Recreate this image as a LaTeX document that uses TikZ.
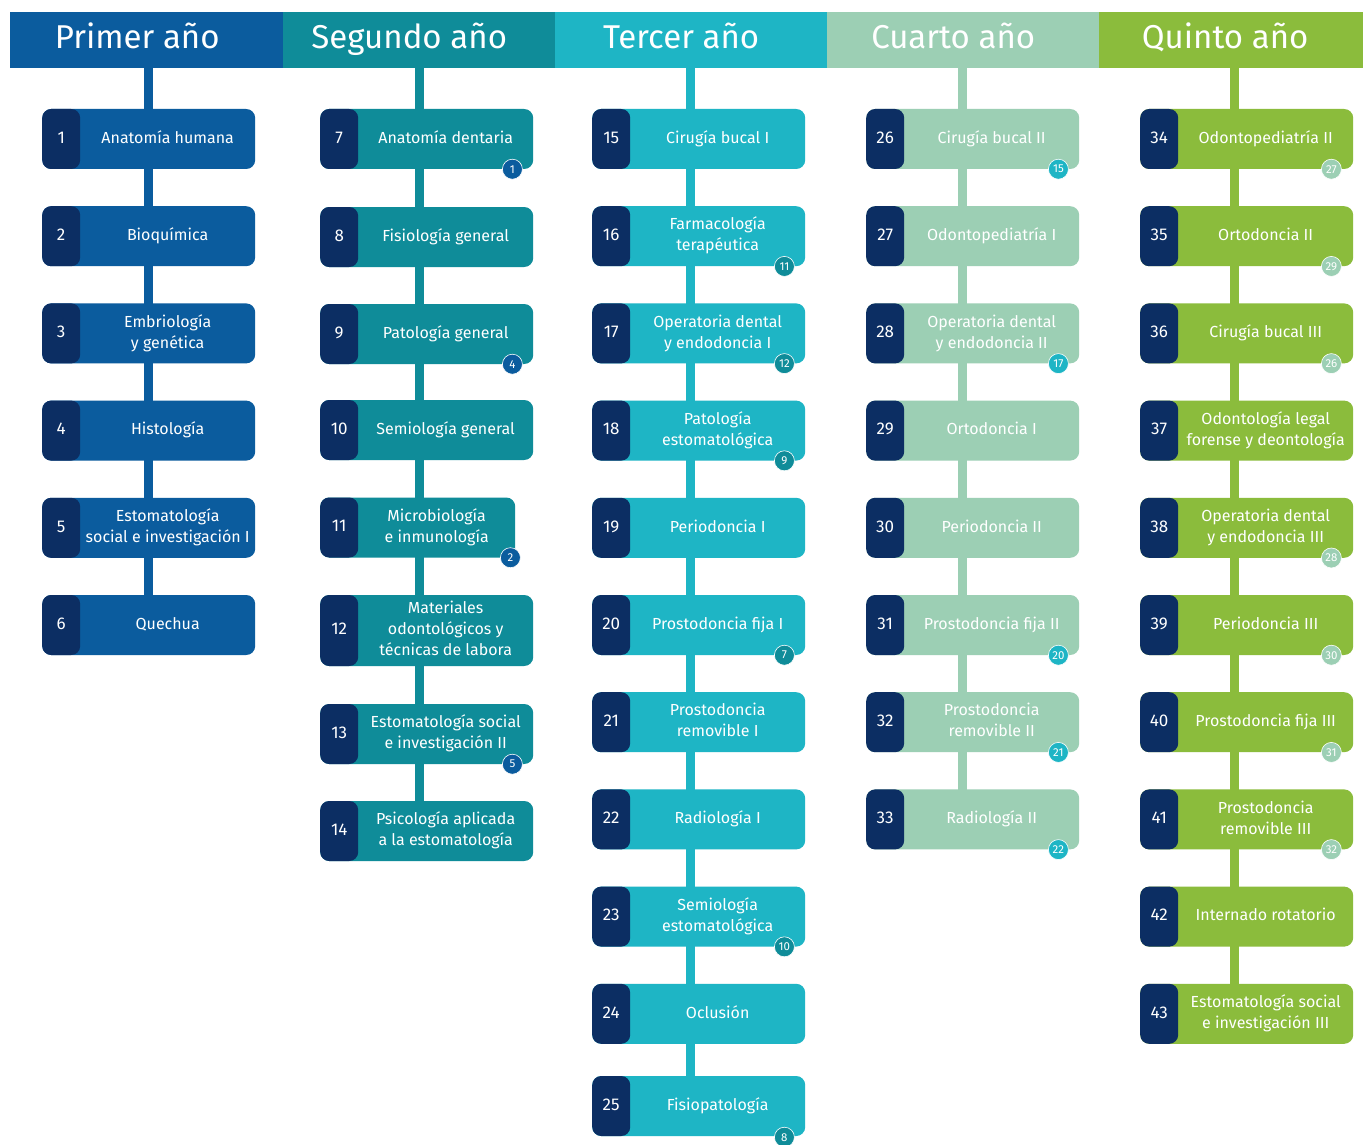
\documentclass[tikz,border=0pt]{standalone}
\usepackage{fontspec}
\setmainfont{Fira Sans}
\usetikzlibrary{calc}
\definecolor{cA}{HTML}{0B5C9E}
\definecolor{cB}{HTML}{0F8C99}
\definecolor{cC}{HTML}{1EB5C5}
\definecolor{cD}{HTML}{9CCFB4}
\definecolor{cE}{HTML}{8BBC3C}
\definecolor{navy}{HTML}{0C2E63}
\pgfdeclarelayer{bg}
\pgfsetlayers{bg,main}
\newcommand\bx[6]{\node[subj,#2,anchor=west] (#1) at (#3,#4) {\makebox[38pt]{\fontsize{17}{21}\selectfont #5}\makebox[175pt]{\begin{tabular}{@{}c@{}}#6\end{tabular}}};}
\begin{document}
\begin{tikzpicture}[x=1pt,y=-1pt,
  subj/.style={rectangle, rounded corners=9pt, minimum width=213pt, minimum height=60pt, inner sep=0pt,
    text=white, font=\fontsize{16}{21}\selectfont,
    path picture={\fill[navy] (path picture bounding box.north west) rectangle ([xshift=38pt]path picture bounding box.south west);}},
  hdr/.style={rectangle, inner sep=0pt, minimum height=56pt, text height=25pt, text depth=8pt, anchor=north west, text=white, font=\fontsize{33}{33}\selectfont},
  badge/.style={circle, draw=white, line width=0.6pt, inner sep=0pt, minimum size=20pt, text=white, font=\fontsize{11.5}{11.5}\selectfont},
  conn/.style={line width=9pt}]
\useasboundingbox (0,0) rectangle (1363,1145);
% headers
\node[hdr, fill=cA, minimum width=273pt] (h1) at (10,12) {\makebox[273pt]{Primer año\hspace{19pt}}};
\node[hdr, fill=cB, minimum width=272pt] (h2) at (283,12) {\makebox[272pt]{Segundo año\hspace{20pt}}};
\node[hdr, fill=cC, minimum width=272pt] (h3) at (555,12) {\makebox[272pt]{Tercer año\hspace{20pt}}};
\node[hdr, fill=cD, minimum width=272pt] (h4) at (827,12) {\makebox[272pt]{Cuarto año\hspace{20pt}}};
\node[hdr, fill=cE, minimum width=264pt] (h5) at (1099,12) {\makebox[264pt]{Quinto año\hspace{12pt}}};
\coordinate (L1) at (148,0);
\coordinate (L2) at (419,0);
\coordinate (L3) at (690,0);
\coordinate (L4) at (962,0);
\coordinate (L5) at (1234,0);
% column 1
\bx{n1}{fill=cA}{42}{139}{1}{Anatomía humana}
\bx{n2}{fill=cA}{42}{236.2}{2}{Bioquímica}
\bx{n3}{fill=cA}{42}{333.4}{3}{Embriología\\y genética}
\bx{n4}{fill=cA}{42}{430.6}{4}{Histología}
\bx{n5}{fill=cA}{42}{527.8}{5}{Estomatología\\social e investigación I}
\bx{n6}{fill=cA}{42}{625}{6}{Quechua}
% column 2
\bx{n7}{fill=cB}{320}{139}{7}{Anatomía dentaria}
\bx{n8}{fill=cB}{320}{237}{8}{Fisiología general}
\bx{n9}{fill=cB}{320}{334}{9}{Patología general}
\bx{n10}{fill=cB}{320}{430}{10}{Semiología general}
\node[subj,fill=cB,anchor=west,minimum width=195pt] (n11) at (320,527.5) {\makebox[38pt]{\fontsize{17}{21}\selectfont 11}\makebox[157pt]{\begin{tabular}{@{}c@{}}Microbiología\\e inmunología\end{tabular}}};
\bx{n12}{fill=cB,minimum height=71pt}{320}{630.5}{12}{Materiales\\odontológicos y\\técnicas de labora}
\bx{n13}{fill=cB}{320}{734}{13}{Estomatología social\\e investigación II}
\bx{n14}{fill=cB}{320}{831}{14}{Psicología aplicada\\a la estomatología}
% column 3
\bx{n15}{fill=cC}{592}{139}{15}{Cirugía bucal I}
\bx{n16}{fill=cC}{592}{236.2}{16}{Farmacología\\terapéutica}
\bx{n17}{fill=cC}{592}{333.4}{17}{Operatoria dental\\y endodoncia I}
\bx{n18}{fill=cC}{592}{430.6}{18}{Patología\\estomatológica}
\bx{n19}{fill=cC}{592}{527.8}{19}{Periodoncia I}
\bx{n20}{fill=cC}{592}{625}{20}{Prostodoncia fija I}
\bx{n21}{fill=cC}{592}{722.2}{21}{Prostodoncia\\removible I}
\bx{n22}{fill=cC}{592}{819.4}{22}{Radiología I}
\bx{n23}{fill=cC}{592}{916.6}{23}{Semiología\\estomatológica}
\bx{n24}{fill=cC}{592}{1013.8}{24}{Oclusión}
\bx{n25}{fill=cC}{592}{1106}{25}{Fisiopatología}
% column 4
\bx{n26}{fill=cD}{866}{139}{26}{Cirugía bucal II}
\bx{n27}{fill=cD}{866}{236.2}{27}{Odontopediatría I}
\bx{n28}{fill=cD}{866}{333.4}{28}{Operatoria dental\\y endodoncia II}
\bx{n29}{fill=cD}{866}{430.6}{29}{Ortodoncia I}
\bx{n30}{fill=cD}{866}{527.8}{30}{Periodoncia II}
\bx{n31}{fill=cD}{866}{625}{31}{Prostodoncia fija II}
\bx{n32}{fill=cD}{866}{722.2}{32}{Prostodoncia\\removible II}
\bx{n33}{fill=cD}{866}{819.4}{33}{Radiología II}
% column 5
\bx{n34}{fill=cE}{1140}{139}{34}{Odontopediatría II}
\bx{n35}{fill=cE}{1140}{236.2}{35}{Ortodoncia II}
\bx{n36}{fill=cE}{1140}{333.4}{36}{Cirugía bucal III}
\bx{n37}{fill=cE}{1140}{430.6}{37}{Odontología legal\\forense y deontología}
\bx{n38}{fill=cE}{1140}{527.8}{38}{Operatoria dental\\y endodoncia III}
\bx{n39}{fill=cE}{1140}{625}{39}{Periodoncia III}
\bx{n40}{fill=cE}{1140}{722.2}{40}{Prostodoncia fija III}
\bx{n41}{fill=cE}{1140}{819.4}{41}{Prostodoncia\\removible III}
\bx{n42}{fill=cE}{1140}{916.6}{42}{Internado rotatorio}
\bx{n43}{fill=cE}{1140}{1013.8}{43}{Estomatología social\\e investigación III}
% badges
\node[badge,fill=cA] (b7) at ([xshift=-21pt]n7.south east) {1};
\node[badge,fill=cA] (b9) at ([xshift=-21pt]n9.south east) {4};
\node[badge,fill=cA] (b11) at ([xshift=-5pt]n11.south east) {2};
\node[badge,fill=cA] (b13) at ([xshift=-21pt]n13.south east) {5};
\node[badge,fill=cB] (b16) at ([xshift=-21pt]n16.south east) {11};
\node[badge,fill=cB] (b17) at ([xshift=-21pt]n17.south east) {12};
\node[badge,fill=cB] (b18) at ([xshift=-21pt]n18.south east) {9};
\node[badge,fill=cB] (b20) at ([xshift=-21pt]n20.south east) {7};
\node[badge,fill=cB] (b23) at ([xshift=-21pt]n23.south east) {10};
\node[badge,fill=cB] (b25) at ([xshift=-21pt,yshift=-1pt]n25.south east) {8};
\node[badge,fill=cC] (b26) at ([xshift=-21pt]n26.south east) {15};
\node[badge,fill=cC] (b28) at ([xshift=-21pt]n28.south east) {17};
\node[badge,fill=cC] (b31) at ([xshift=-21pt]n31.south east) {20};
\node[badge,fill=cC] (b32) at ([xshift=-21pt]n32.south east) {21};
\node[badge,fill=cC] (b33) at ([xshift=-21pt]n33.south east) {22};
\node[badge,fill=cD] (b34) at ([xshift=-22pt]n34.south east) {27};
\node[badge,fill=cD] (b35) at ([xshift=-22pt]n35.south east) {29};
\node[badge,fill=cD] (b36) at ([xshift=-22pt]n36.south east) {26};
\node[badge,fill=cD] (b38) at ([xshift=-22pt]n38.south east) {28};
\node[badge,fill=cD] (b39) at ([xshift=-22pt]n39.south east) {30};
\node[badge,fill=cD] (b40) at ([xshift=-22pt]n40.south east) {31};
\node[badge,fill=cD] (b41) at ([xshift=-22pt]n41.south east) {32};
% connectors
\begin{pgfonlayer}{bg}
\fill[white] (0,0) rectangle (1363,1145);
\draw[conn,cA] (L1 |- h1.south) -- (L1 |- n6.center);
\draw[conn,cB] (L2 |- h2.south) -- (L2 |- n14.center);
\draw[conn,cC] (L3 |- h3.south) -- (L3 |- n25.center);
\draw[conn,cD] (L4 |- h4.south) -- (L4 |- n33.center);
\draw[conn,cE] (L5 |- h5.south) -- (L5 |- n43.center);
\end{pgfonlayer}
\end{tikzpicture}
\end{document}
